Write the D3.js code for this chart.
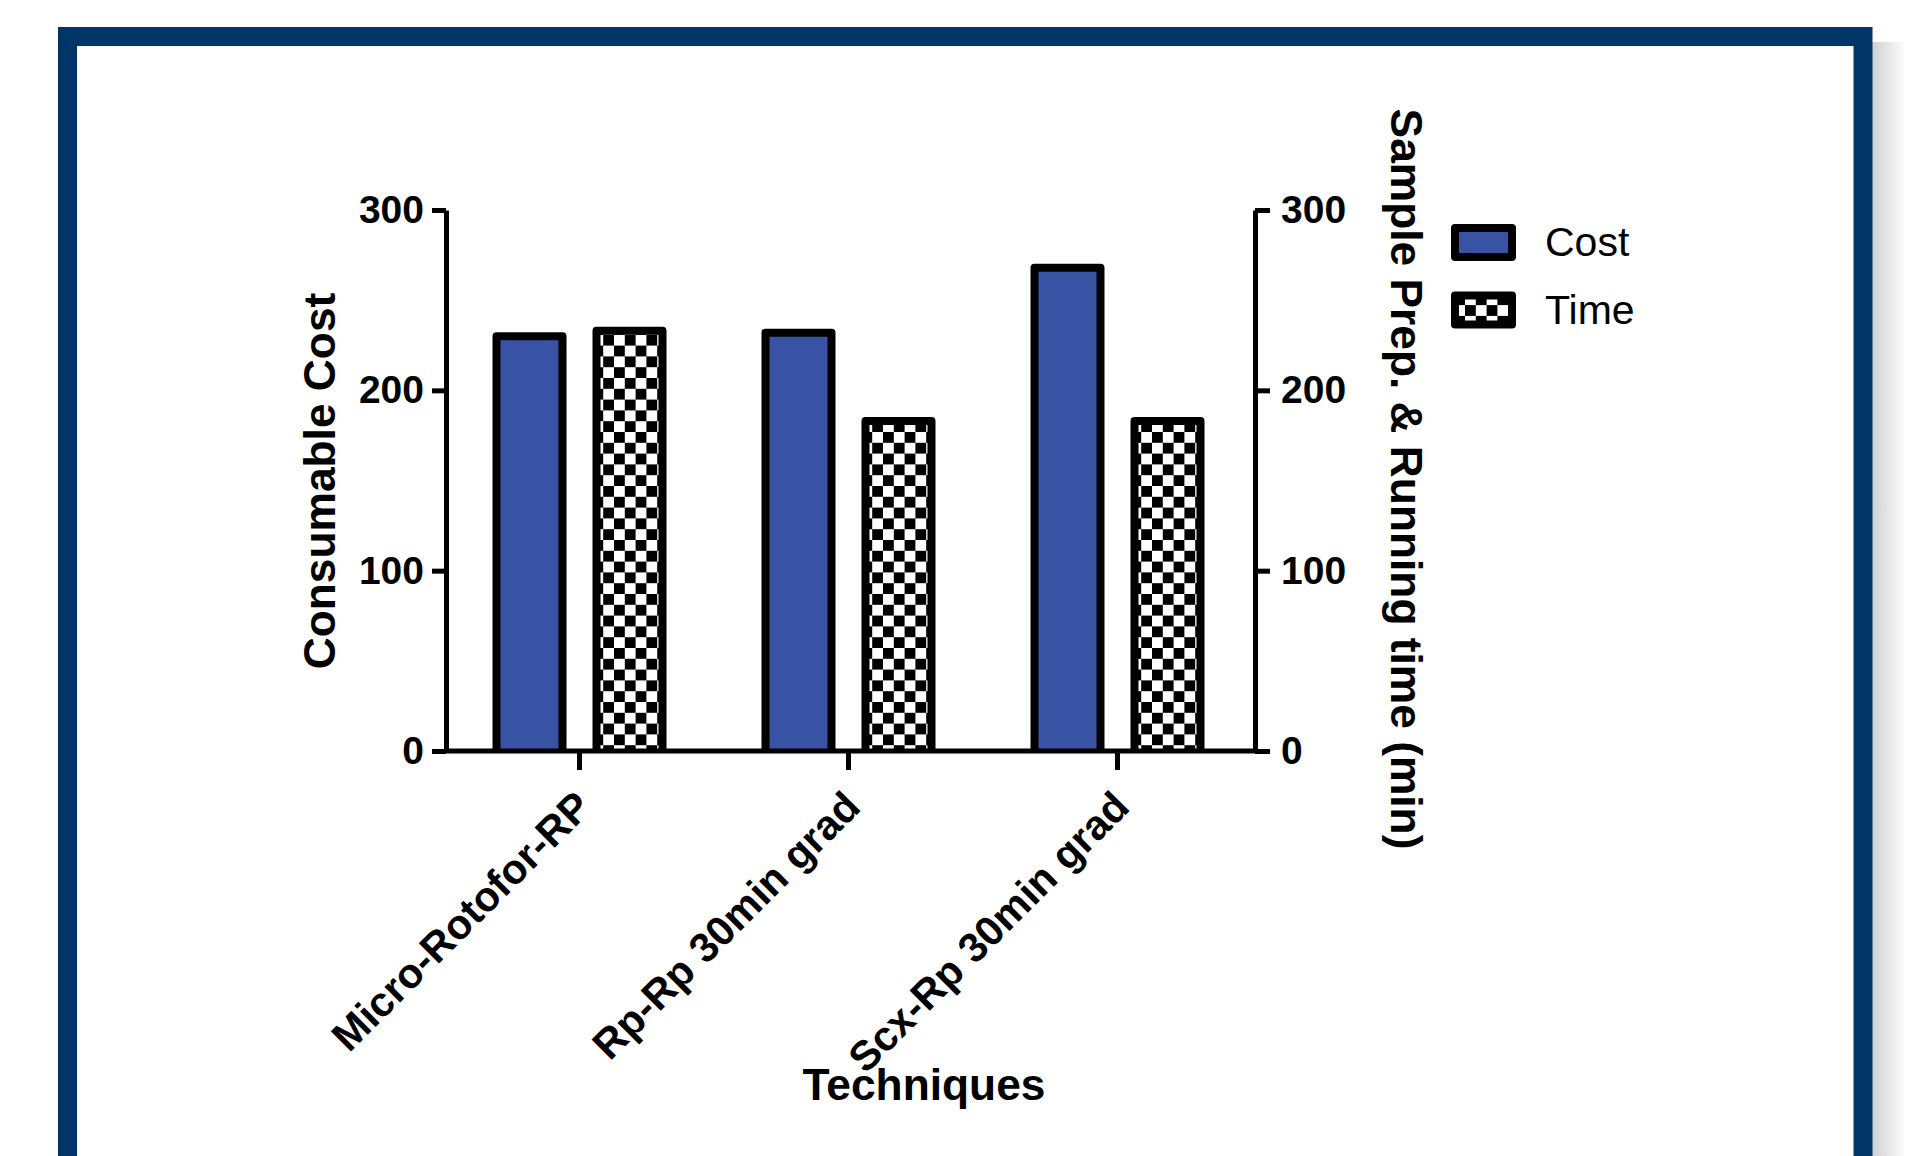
<html>
<head>
<style>
body { margin:0; background:#ffffff; }
svg { display:block; }
.ax text { font-family:"Liberation Sans", Arial, sans-serif; font-weight:bold; font-size:39px; fill:#000000; }
.ax path, .ax line { stroke:#000000; stroke-width:5px; }
.title { font-family:"Liberation Sans", Arial, sans-serif; font-weight:bold; font-size:44.3px; fill:#000000; }
.legtext { font-family:"Liberation Sans", Arial, sans-serif; font-size:41px; fill:#000000; }
</style>
<script src="https://cdn.jsdelivr.net/npm/d3@7"></script>
</head>
<body>
<svg id="chart" width="1908" height="1156"></svg>
<script>

var categories = ["Micro-Rotofor-RP", "Rp-Rp 30min grad", "Scx-Rp 30min grad"];
var series = ["Cost", "Time"];
var costValues = [230, 232, 268];
var timeValues = [233, 183, 183];
var yTicks = [0, 100, 200, 300];

var rows = categories.map(function(c, i) { return {cat: c, Cost: costValues[i], Time: timeValues[i]}; });

var svg = d3.select("#chart");
var defs = svg.append("defs");

// shadow right of the frame
var grad = defs.append("linearGradient").attr("id", "shade");
grad.append("stop").attr("offset", "0%").attr("stop-color", "#cfd0d3");
grad.append("stop").attr("offset", "100%").attr("stop-color", "#ffffff");
svg.append("rect").attr("x", 1872).attr("y", 42).attr("width", 34).attr("height", 1200).attr("fill", "url(#shade)");

// checker pattern for Time
var pat = defs.append("pattern").attr("id", "checker").attr("patternUnits", "userSpaceOnUse")
	.attr("width", 21.6).attr("height", 21.6).attr("x", 601).attr("y", 0);
pat.append("rect").attr("width", 21.6).attr("height", 21.6).attr("fill", "#ffffff");
pat.append("rect").attr("width", 10.8).attr("height", 10.8).attr("fill", "#000000");
pat.append("rect").attr("x", 10.8).attr("y", 10.8).attr("width", 10.8).attr("height", 10.8).attr("fill", "#000000");

var fills = {Cost: "#3953a4", Time: "url(#checker)"};

// frame
svg.append("rect").attr("x", 67.5).attr("y", 36.5).attr("width", 1795.5).attr("height", 1300)
	.attr("fill", "#ffffff").attr("stroke", "#003567").attr("stroke-width", 19);

var y = d3.scaleLinear().domain([0, 300]).range([751, 210]);
var yR = d3.scaleLinear().domain([0, 300]).range([751, 210]);
var x0 = d3.scaleBand().domain(categories).range([445, 1252]);
var x1 = d3.scaleBand().domain(series).range([0, x0.bandwidth()]).paddingInner(0.34).paddingOuter(0.515);

//Bars
var groups = svg.append("g").selectAll("g").data(rows).enter().append("g")
	.attr("transform", function(d) { return "translate(" + x0(d.cat) + ",0)"; });
groups.selectAll("path").data(function(d) { return series.map(function(s) { return {s: s, v: d[s]}; }); })
	.enter().append("path")
	.attr("d", function(d) {
		var l = x1(d.s), r = x1(d.s) + x1.bandwidth();
		return "M" + l + "," + y(0) + " V" + y(d.v) + " H" + r + " V" + y(0);
	})
	.attr("fill", function(d) { return fills[d.s]; })
	.attr("stroke", "#000000").attr("stroke-width", 8).attr("stroke-linejoin", "round");

//Axes
var yAxis = d3.axisLeft(y).tickValues(yTicks).tickSize(14).tickSizeOuter(0).tickPadding(8);
svg.append("g").attr("class", "ax").attr("transform", "translate(446,0)").call(yAxis);
var yAxisR = d3.axisRight(yR).tickValues(yTicks).tickSize(15).tickSizeOuter(0).tickPadding(11);
svg.append("g").attr("class", "ax").attr("transform", "translate(1255,0)").call(yAxisR);

var xAxis = d3.axisBottom(x0).tickSize(19).tickSizeOuter(0);
var gx = svg.append("g").attr("class", "ax").attr("transform", "translate(0," + y(0) + ")").call(xAxis);
gx.select(".domain").remove();
gx.selectAll("text").attr("x", 0).attr("y", 0).attr("dy", 0)
	.style("font-size", "41.5px").style("text-anchor", "end")
	.attr("transform", "translate(14,58) rotate(-45)");
svg.append("line").attr("x1", 446).attr("x2", 1255).attr("y1", y(0)).attr("y2", y(0))
	.attr("stroke", "#000000").attr("stroke-width", 5);

//Titles
svg.append("text").attr("class", "title").text("Consumable Cost")
	.attr("text-anchor", "middle").attr("transform", "translate(335,481)rotate(-90)");
svg.append("text").attr("class", "title").text("Sample Prep. & Running time (min)")
	.attr("text-anchor", "middle").attr("transform", "translate(1391,479)rotate(90)");
svg.append("text").attr("class", "title").text("Techniques")
	.attr("text-anchor", "middle").attr("x", 924).attr("y", 1100);

//Legend
var leg = svg.append("g").selectAll("g").data(series).enter().append("g")
	.attr("transform", function(d, i) { return "translate(0," + (i * 67.5) + ")"; });
leg.append("rect").attr("x", 1455).attr("y", 228).attr("width", 57).attr("height", 29)
	.attr("fill", function(d) { return fills[d]; })
	.attr("stroke", "#000000").attr("stroke-width", 8).attr("stroke-linejoin", "round");
leg.append("text").attr("class", "legtext").attr("x", 1545).attr("y", 256).text(function(d) { return d; });

</script>
</body>
</html>
